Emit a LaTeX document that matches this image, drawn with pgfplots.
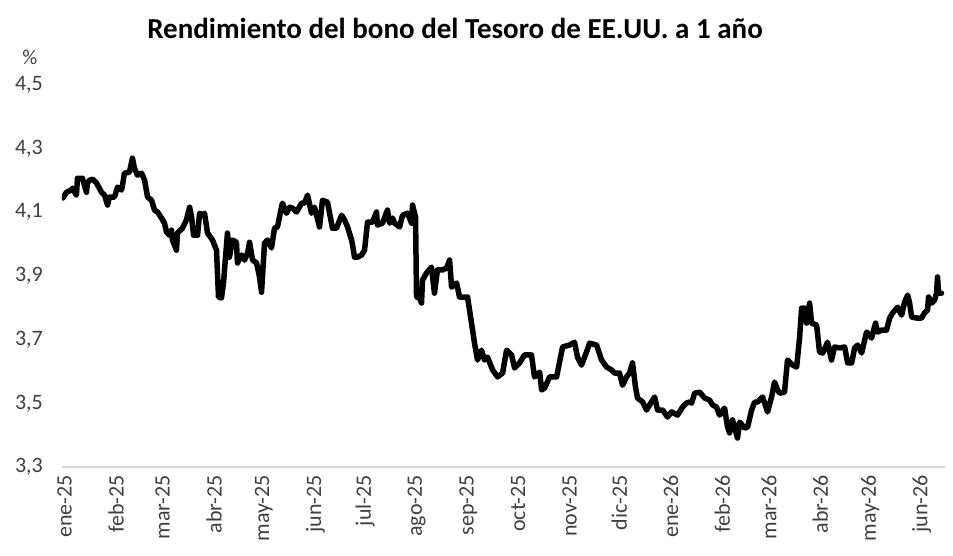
\documentclass[border=0pt]{standalone}
\usepackage{fontspec}
\setmainfont{Carlito}
\usepackage{pgfplots}
\pgfplotsset{compat=1.18}
\usepackage{pgfplotstable}
\definecolor{ticktxt}{HTML}{404040}
\definecolor{axgray}{HTML}{D9D9D9}
\pgfplotstableread{
d v
-1 4.145
1.2 4.163
4.2 4.170
4.8 4.176
7.2 4.154
7.8 4.207
10.8 4.207
13.2 4.163
13.8 4.192
15.1 4.201
16.9 4.204
19.3 4.192
22.3 4.163
24.1 4.154
25.9 4.123
27.1 4.148
30.1 4.148
31.9 4.179
34.3 4.170
34.9 4.185
36.1 4.223
39.1 4.226
40.9 4.270
42.1 4.239
43.9 4.217
46.4 4.223
48.2 4.201
50.0 4.148
52.4 4.138
54.2 4.107
56.0 4.101
58.4 4.082
60.2 4.066
61.4 4.038
63.2 4.028
64.4 4.044
65.0 4.013
67.4 3.981
68.0 4.035
71.0 4.050
73.4 4.076
75.3 4.116
76.5 4.085
77.7 4.028
80.1 4.028
81.3 4.097
83.1 4.091
84.3 4.097
86.1 4.035
89.1 4.013
91.5 3.981
92.7 3.834
94.5 3.831
95.7 3.878
98.1 4.035
99.3 3.959
101.1 4.013
103.5 4.006
104.1 3.941
106.6 3.966
108.4 3.950
110.2 3.972
111.4 4.006
113.2 3.950
115.6 3.941
117.4 3.897
118.6 3.849
120.4 4.003
122.2 4.013
124.6 3.988
126.4 4.050
128.2 4.054
130.0 4.101
131.2 4.129
133.6 4.097
135.5 4.116
137.3 4.113
139.7 4.101
142.7 4.129
144.5 4.129
146.3 4.154
148.7 4.097
150.5 4.116
153.5 4.054
155.3 4.138
158.3 4.132
161.3 4.050
163.7 4.050
166.8 4.091
168.6 4.076
170.4 4.054
172.8 4.013
173.4 3.997
174.6 3.959
176.4 3.959
178.8 3.966
180.6 3.981
182.4 4.069
185.4 4.069
187.8 4.101
188.4 4.060
191.4 4.066
194.4 4.107
195.7 4.066
197.5 4.082
198.7 4.066
201.7 4.054
203.5 4.091
206.5 4.097
208.9 4.066
209.5 4.123
211.3 4.085
211.9 3.834
213.7 3.831
214.9 3.815
215.5 3.887
217.9 3.909
220.9 3.928
222.7 3.846
224.5 3.919
227.6 3.919
230.0 3.925
231.8 3.950
233.0 3.865
236.0 3.878
237.8 3.834
239.6 3.834
242.6 3.834
245.0 3.752
246.8 3.689
248.6 3.636
251.0 3.667
252.8 3.636
254.6 3.645
257.7 3.605
260.7 3.583
263.7 3.595
266.1 3.667
269.1 3.652
270.9 3.611
273.9 3.627
276.9 3.652
281.1 3.652
282.9 3.583
286.0 3.598
287.2 3.542
289.0 3.548
292.0 3.583
296.2 3.583
299.8 3.677
304.0 3.683
307.0 3.692
308.8 3.645
311.2 3.620
314.2 3.661
316.1 3.689
320.3 3.683
323.3 3.636
326.3 3.614
329.3 3.605
331.1 3.595
334.1 3.595
335.9 3.557
338.3 3.583
340.1 3.595
341.9 3.627
343.7 3.551
344.9 3.517
348.0 3.504
350.4 3.479
352.2 3.495
355.2 3.520
357.0 3.479
360.0 3.479
363.0 3.457
365.4 3.473
369.0 3.463
372.0 3.488
374.4 3.501
376.3 3.504
377.5 3.501
379.3 3.532
382.3 3.535
385.3 3.517
388.3 3.510
390.1 3.495
392.5 3.488
394.3 3.463
397.3 3.485
399.1 3.426
400.3 3.407
402.1 3.448
405.1 3.391
406.4 3.441
409.4 3.422
411.2 3.426
413.6 3.479
415.4 3.504
417.2 3.504
419.6 3.517
420.2 3.520
423.2 3.473
425.6 3.520
427.4 3.567
429.2 3.542
430.4 3.532
433.4 3.535
435.2 3.636
438.3 3.620
440.7 3.614
442.5 3.708
443.7 3.799
445.5 3.799
446.7 3.752
448.5 3.815
449.7 3.752
452.7 3.746
454.5 3.661
456.3 3.658
458.1 3.677
459.3 3.692
461.7 3.636
463.5 3.677
466.6 3.674
469.6 3.677
471.4 3.627
473.8 3.627
475.6 3.674
477.4 3.683
479.8 3.658
482.8 3.724
484.6 3.714
485.8 3.705
488.2 3.752
489.4 3.724
491.8 3.730
494.8 3.730
496.7 3.768
498.5 3.784
501.5 3.802
503.9 3.777
505.7 3.818
507.5 3.840
508.7 3.815
509.9 3.771
512.9 3.768
515.9 3.768
517.7 3.784
519.5 3.793
520.1 3.834
521.9 3.815
523.7 3.824
524.9 3.846
525.5 3.897
526.1 3.846
527.9 3.846
}\yielddata
\begin{document}
\begin{tikzpicture}
\useasboundingbox (0,0) rectangle (953pt,556pt);
\begin{axis}[
  at={(62pt,89pt)}, anchor=south west,
  scale only axis, width=883pt, height=382pt,
  xmin=-1.5, xmax=530, ymin=3.3, ymax=4.5,
  axis x line*=bottom, axis y line*=left,
  x axis line style={draw=axgray, line width=1.5pt},
  y axis line style={draw=none},
  major tick length=0pt,
  ytick={3.3,3.5,3.7,3.9,4.1,4.3,4.5},
  xtick={0,31,59,90,120,151,181,212,243,273,304,334,365,396,424,455,485,516},
  xticklabels={ene-25,feb-25,mar-25,abr-25,may-25,jun-25,jul-25,ago-25,sep-25,oct-25,nov-25,dic-25,ene-26,feb-26,mar-26,abr-26,may-26,jun-26},
  xticklabel style={rotate=90, anchor=east, font=\fontsize{22}{26}\selectfont, text=ticktxt, inner sep=0pt, xshift=-8pt},
  yticklabel style={anchor=east, font=\fontsize{22}{26}\selectfont, text=ticktxt, inner sep=0pt, xshift=-19pt},
  /pgf/number format/.cd, assume math mode=true, use comma, fixed, fixed zerofill, precision=1,
]
\addplot[black, line width=5.5pt, line join=round, line cap=round] table[x=d, y=v] {\yielddata};
\end{axis}
\node[font=\fontsize{29}{34}\selectfont\bfseries, text=black] at (455pt,528pt) {Rendimiento del bono del Tesoro de EE.UU. a 1 año};
\node[font=\fontsize{21}{25}\selectfont, text=ticktxt] at (30pt,499pt) {\%};
\end{tikzpicture}
\end{document}
